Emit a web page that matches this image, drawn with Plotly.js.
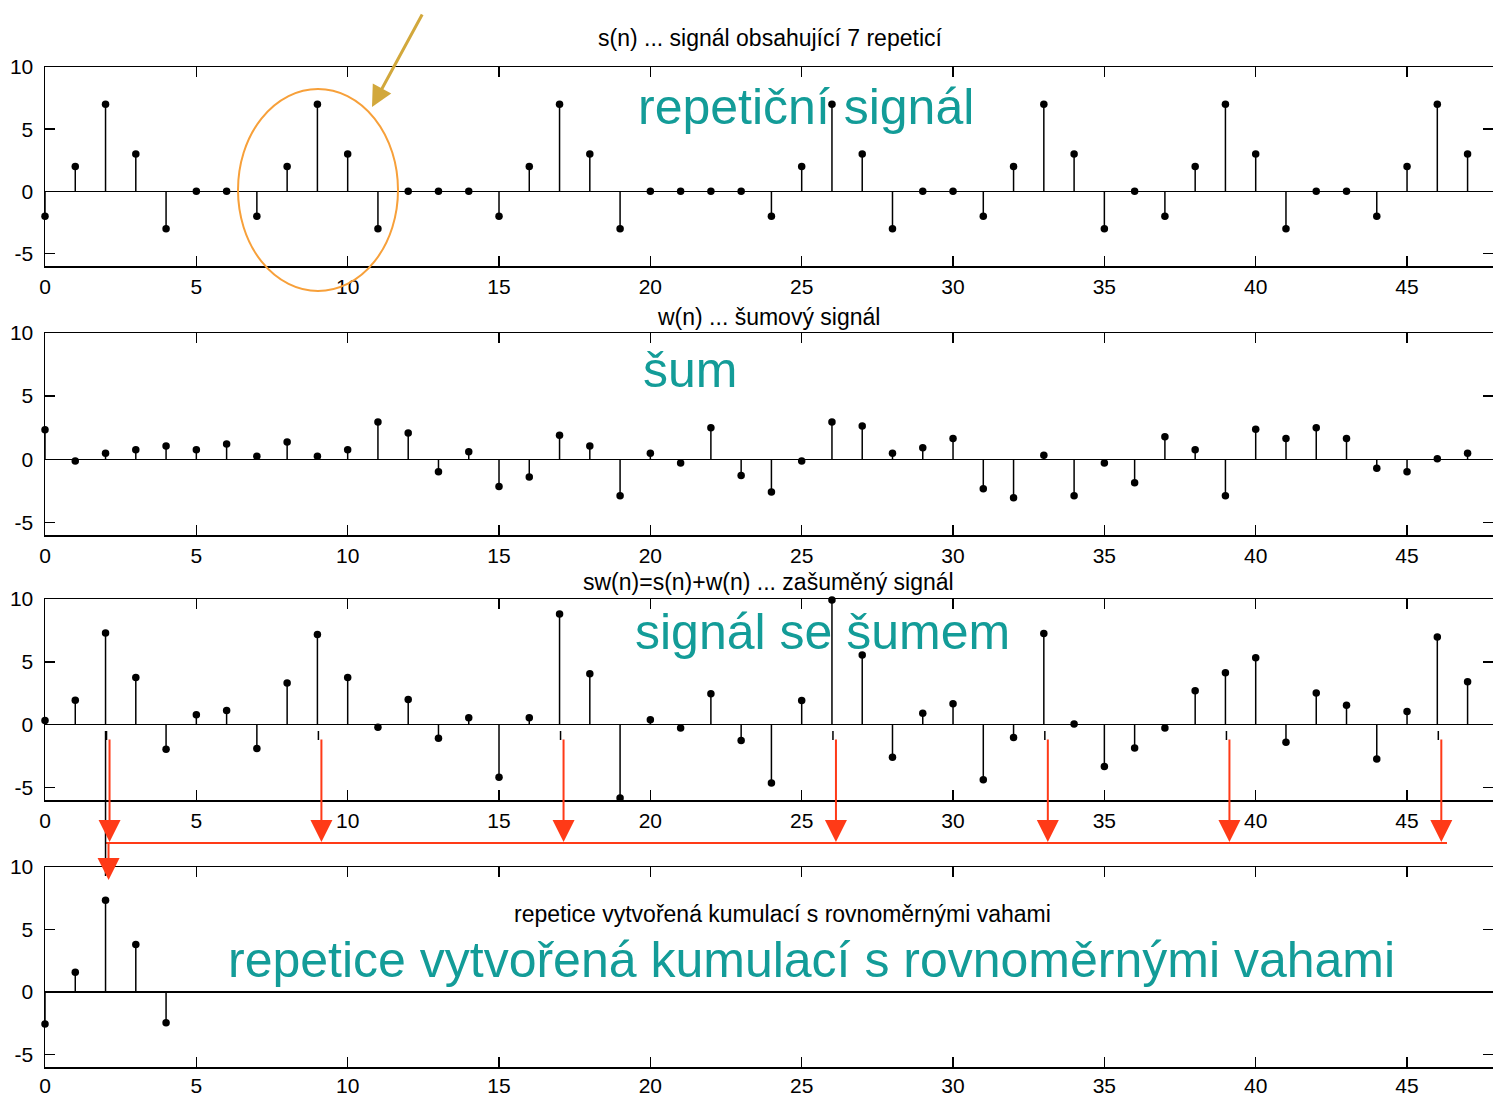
<!DOCTYPE html>
<html>
<head>
<meta charset="utf-8">
<script src="https://cdn.plot.ly/plotly-3.0.1.min.js"></script>
<style>
  html, body { margin: 0; padding: 0; background: #fff; }
  #chart { width: 1493px; height: 1097px; }
</style>
</head>
<body>
<div id="chart"></div>
<script>
// sample index
const n = [0,1,2,3,4,5,6,7,8,9,10,11,12,13,14,15,16,17,18,19,20,21,22,23,
           24,25,26,27,28,29,30,31,32,33,34,35,36,37,38,39,40,41,42,43,44,45,46,47];

// s(n): repetitive signal, 7 copies of the pattern
const s = [-2,2,7,3,-3,0,0, -2,2,7,3,-3,0,0,0, -2,2,7,3,-3,0,0,0,0,
           -2,2,7,3,-3,0,0, -2,2,7,3,-3,0, -2,2,7,3,-3,0,0, -2,2,7,3];

// w(n): noise
const w = [2.33,-0.13,0.47,0.76,1.05,0.76,1.2,0.24,1.36,0.24,
           0.76,2.96,2.07,-0.99,0.6,-2.15,-1.41,1.91,1.05,-2.9,
           0.47,-0.29,2.5,-1.28,-2.6,-0.13,2.96,2.64,0.47,0.92,
           1.65,-2.33,-3.04,0.31,-2.9,-0.29,-1.86,1.78,0.76,-2.9,
           2.38,1.65,2.5,1.65,-0.71,-0.99,0.03,0.47];

// sw(n) = s(n) + w(n): noisy signal
const sw = [0.33,1.95,7.3,3.75,-1.97,0.78,1.12,-1.9,3.32,7.18,
            3.75,-0.2,2.0,-1.08,0.55,-4.18,0.55,8.8,4.04,-5.85,
            0.38,-0.26,2.45,-1.27,-4.65,1.92,9.93,5.55,-2.6,0.9,
            1.66,-4.38,-1.02,7.25,0.05,-3.34,-1.87,-0.26,2.7,4.12,
            5.32,-1.4,2.52,1.55,-2.74,1.04,6.98,3.42];

// averaged repetition
const nRep = [0,1,2,3,4];
const rep = [-2.55,1.58,7.35,3.8,-2.45];

const xTicks = [0,5,10,15,20,25,30,35,40,45];
const yTicks = [-5,0,5,10];
const yTickText = ['-5','0','5','10'];

const panelTitles = [
  's(n) ... signál obsahující 7 repeticí',
  'w(n) ... šumový signál',
  'sw(n)=s(n)+w(n) ... zašuměný signál',
  'repetice vytvořená kumulací s rovnoměrnými vahami'
];
const bigLabels = [
  'repetiční signál',
  'šum',
  'signál se šumem',
  'repetice vytvořená kumulací s rovnoměrnými vahami'
];

// ---- geometry (pixels) ----
const W = 1493, H = 1097, ML = 45, MR = 0;
const PW = W - ML - MR;
const XMAX = 47.84;
const px = v => (v - ML) / PW;      // pixel x -> paper x
const py = v => 1 - v / H;          // pixel y -> paper y
const panels = [[67, 266], [333, 535], [599, 800], [867, 1067]];

const FONT = 'Liberation Sans, Arial, Helvetica, sans-serif';
const TEAL = '#139c98';
const RED = '#ff3a17';

function stemTraces(xv, yv, k) {
  const xs = [], ys = [];
  for (let i = 0; i < xv.length; i++) {
    xs.push(xv[i], xv[i], null);
    ys.push(0, yv[i], null);
  }
  const ax = k === 1 ? 'x' : 'x' + k, ay = k === 1 ? 'y' : 'y' + k;
  return [
    { x: xs, y: ys, xaxis: ax, yaxis: ay, type: 'scatter', mode: 'lines',
      line: { color: '#000', width: 1.5 }, hoverinfo: 'skip', cliponaxis: false },
    { x: xv, y: yv, xaxis: ax, yaxis: ay, type: 'scatter', mode: 'markers',
      marker: { color: '#000', size: 7.5 }, cliponaxis: false }
  ];
}

const data = [
  ...stemTraces(n, s, 1),
  ...stemTraces(n, w, 2),
  ...stemTraces(n, sw, 3),
  ...stemTraces(nRep, rep, 4)
];

const layout = {
  width: W, height: H,
  margin: { l: ML, r: MR, t: 0, b: 0 },
  paper_bgcolor: '#fff', plot_bgcolor: '#fff',
  showlegend: false,
  font: { family: FONT, color: '#000' },
  annotations: [], shapes: []
};

panels.forEach((p, i) => {
  const k = i + 1;
  const xa = 'xaxis' + (k === 1 ? '' : k), ya = 'yaxis' + (k === 1 ? '' : k);
  layout[xa] = {
    domain: [0, 1], anchor: k === 1 ? 'y' : 'y' + k,
    range: [0, XMAX], tickvals: xTicks, ticks: 'inside', ticklen: 10,
    tickwidth: 1.5, tickcolor: '#000', showline: true, linecolor: '#000',
    linewidth: 1.5, mirror: 'ticks', showgrid: false, zeroline: false,
    tickfont: { family: FONT, size: 21, color: '#000' },
    ticklabelstandoff: k === 4 ? -1 : 1
  };
  layout[ya] = {
    domain: [py(p[1]), py(p[0])], anchor: k === 1 ? 'x' : 'x' + k,
    range: [-6, 10], tickvals: yTicks, ticktext: yTickText, ticks: 'inside', ticklen: 10,
    tickwidth: 1.5, tickcolor: '#000', showline: true, linecolor: '#000',
    linewidth: 1.5, mirror: 'ticks', showgrid: false,
    zeroline: true, zerolinecolor: '#000', zerolinewidth: 1.5,
    tickfont: { family: FONT, size: 21, color: '#000' }, ticklabelstandoff: 6
  };
});

// panel titles
const titlePos = [[770, 38], [768, 317], [768, 582], [782, 914]];
panelTitles.forEach((t, i) => {
  layout.annotations.push({
    text: t, xref: 'paper', yref: 'paper', x: px(titlePos[i][0]), y: py(titlePos[i][1]),
    xanchor: 'center', yanchor: 'middle', showarrow: false,
    font: { family: FONT, size: 23, color: '#000' }
  });
});

// large teal captions
const bigPos = [[806, 107], [690, 370], [822, 632], [811, 960]];
bigLabels.forEach((t, i) => {
  layout.annotations.push({
    text: t, xref: 'paper', yref: 'paper', x: px(bigPos[i][0]), y: py(bigPos[i][1]),
    xanchor: 'center', yanchor: 'middle', showarrow: false,
    font: { family: FONT, size: 50, color: TEAL }
  });
});

// highlight of one repetition
layout.shapes.push({
  type: 'circle', xref: 'paper', yref: 'paper',
  x0: px(238), x1: px(398), y0: py(291), y1: py(89),
  line: { color: '#f7a03a', width: 2 }
});
layout.annotations.push({
  text: '', xref: 'paper', yref: 'paper', x: px(372), y: py(107),
  ax: 51, ay: -94, showarrow: true, arrowhead: 2, arrowsize: 1.4,
  arrowwidth: 3, arrowcolor: '#d2a83c', standoff: 0
});

// arrows collecting the repetitions
const peak = Math.max(...s);
const peaks = n.filter((v, i) => s[i] === peak);
const toPx = v => ML + v * PW / XMAX;
const arrowX = peaks.map(v => toPx(v) + 4);
arrowX.forEach(x => {
  layout.shapes.push({
    type: 'line', xref: 'paper', yref: 'paper',
    x0: px(x - 3), x1: px(x - 3), y0: py(731), y1: py(740),
    line: { color: '#000', width: 1.5 }
  });
  layout.annotations.push({
    text: '', xref: 'paper', yref: 'paper', x: px(x), y: py(842),
    ax: 0, ay: -104, showarrow: true, arrowhead: 2, arrowsize: 2.2,
    arrowwidth: 2, arrowcolor: RED, standoff: 0
  });
});
layout.shapes.push({
  type: 'line', xref: 'paper', yref: 'paper',
  x0: px(arrowX[0] - 4), x1: px(1447), y0: py(843), y1: py(843),
  line: { color: RED, width: 2 }
});
layout.shapes.push({
  type: 'line', xref: 'paper', yref: 'paper',
  x0: px(arrowX[0] - 4), x1: px(arrowX[0] - 4), y0: py(731), y1: py(876),
  line: { color: '#000', width: 1.5 }
});
layout.annotations.push({
  text: '', xref: 'paper', yref: 'paper', x: px(arrowX[0] - 1), y: py(880),
  ax: 0, ay: -38, showarrow: true, arrowhead: 2, arrowsize: 2.2,
  arrowwidth: 2, arrowcolor: RED, standoff: 0
});

Plotly.newPlot('chart', data, layout, { displayModeBar: false, staticPlot: true });
</script>
</body>
</html>
